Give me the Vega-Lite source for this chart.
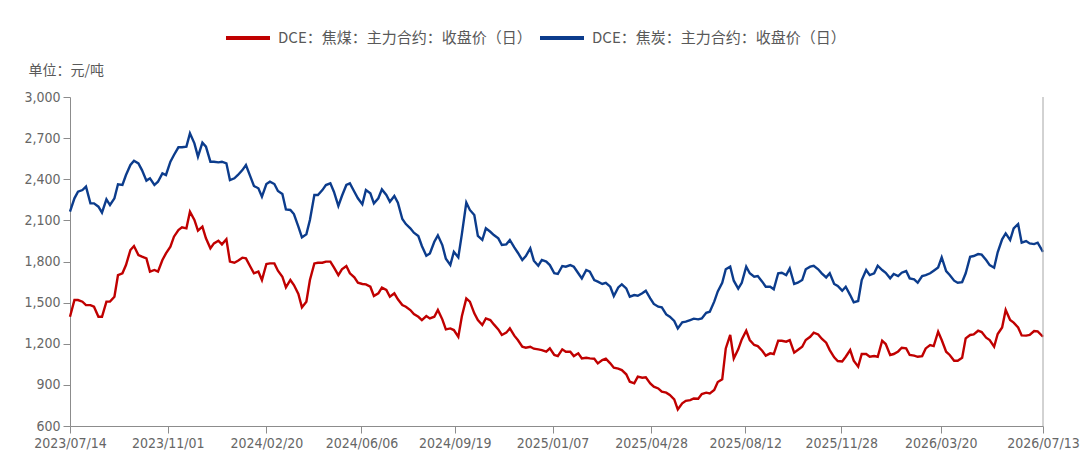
{
  "$schema": "https://vega.github.io/schema/vega-lite/v6.json",
  "width": 973,
  "height": 329,
  "autosize": {"type": "none"},
  "padding": {"left": 70, "top": 97, "right": 49, "bottom": 47},
  "background": "white",
  "config": {
    "view": {"stroke": null},
    "font": "DejaVu Sans Condensed",
    "axis": {
      "grid": false,
      "domainColor": "#8c8c8c",
      "tickColor": "#8c8c8c",
      "labelColor": "#666666",
      "labelFont": "DejaVu Sans Condensed",
      "labelFontSize": 14,
      "tickSize": 7,
      "labelPadding": 3
    }
  },
  "resolve": {"axis": {"x": "independent"}},
  "data": {
    "values": [
      {"d": "2023-07-14", "m": 1397, "c": 2163},
      {"d": "2023-07-19", "m": 1519, "c": 2261},
      {"d": "2023-07-23", "m": 1519, "c": 2309},
      {"d": "2023-07-28", "m": 1507, "c": 2321},
      {"d": "2023-08-01", "m": 1482, "c": 2346},
      {"d": "2023-08-06", "m": 1482, "c": 2224},
      {"d": "2023-08-10", "m": 1470, "c": 2224},
      {"d": "2023-08-15", "m": 1397, "c": 2200},
      {"d": "2023-08-19", "m": 1397, "c": 2156},
      {"d": "2023-08-24", "m": 1507, "c": 2253},
      {"d": "2023-08-28", "m": 1507, "c": 2212},
      {"d": "2023-09-02", "m": 1543, "c": 2261},
      {"d": "2023-09-06", "m": 1701, "c": 2363},
      {"d": "2023-09-11", "m": 1714, "c": 2358},
      {"d": "2023-09-15", "m": 1774, "c": 2431},
      {"d": "2023-09-20", "m": 1884, "c": 2504},
      {"d": "2023-09-24", "m": 1913, "c": 2535},
      {"d": "2023-09-29", "m": 1847, "c": 2516},
      {"d": "2023-10-03", "m": 1835, "c": 2467},
      {"d": "2023-10-08", "m": 1823, "c": 2390},
      {"d": "2023-10-12", "m": 1726, "c": 2407},
      {"d": "2023-10-17", "m": 1738, "c": 2358},
      {"d": "2023-10-21", "m": 1726, "c": 2382},
      {"d": "2023-10-26", "m": 1811, "c": 2443},
      {"d": "2023-10-30", "m": 1859, "c": 2431},
      {"d": "2023-11-04", "m": 1908, "c": 2528},
      {"d": "2023-11-08", "m": 1981, "c": 2577},
      {"d": "2023-11-13", "m": 2030, "c": 2633},
      {"d": "2023-11-17", "m": 2049, "c": 2633},
      {"d": "2023-11-22", "m": 2042, "c": 2638},
      {"d": "2023-11-26", "m": 2163, "c": 2735},
      {"d": "2023-12-01", "m": 2103, "c": 2662},
      {"d": "2023-12-05", "m": 2025, "c": 2565},
      {"d": "2023-12-10", "m": 2054, "c": 2667},
      {"d": "2023-12-14", "m": 1969, "c": 2638},
      {"d": "2023-12-19", "m": 1896, "c": 2528},
      {"d": "2023-12-23", "m": 1932, "c": 2528},
      {"d": "2023-12-28", "m": 1952, "c": 2523},
      {"d": "2024-01-01", "m": 1925, "c": 2528},
      {"d": "2024-01-06", "m": 1962, "c": 2516},
      {"d": "2024-01-10", "m": 1799, "c": 2394},
      {"d": "2024-01-15", "m": 1791, "c": 2407},
      {"d": "2024-01-19", "m": 1806, "c": 2431},
      {"d": "2024-01-24", "m": 1828, "c": 2467},
      {"d": "2024-01-28", "m": 1823, "c": 2504},
      {"d": "2024-02-02", "m": 1762, "c": 2419},
      {"d": "2024-02-06", "m": 1714, "c": 2351},
      {"d": "2024-02-11", "m": 1726, "c": 2334},
      {"d": "2024-02-15", "m": 1665, "c": 2273},
      {"d": "2024-02-20", "m": 1782, "c": 2365},
      {"d": "2024-02-24", "m": 1786, "c": 2382},
      {"d": "2024-02-29", "m": 1786, "c": 2365},
      {"d": "2024-03-04", "m": 1733, "c": 2314},
      {"d": "2024-03-09", "m": 1689, "c": 2292},
      {"d": "2024-03-13", "m": 1611, "c": 2180},
      {"d": "2024-03-18", "m": 1665, "c": 2176},
      {"d": "2024-03-22", "m": 1628, "c": 2146},
      {"d": "2024-03-27", "m": 1563, "c": 2054},
      {"d": "2024-03-31", "m": 1465, "c": 1976},
      {"d": "2024-04-05", "m": 1507, "c": 1998},
      {"d": "2024-04-09", "m": 1665, "c": 2103},
      {"d": "2024-04-14", "m": 1786, "c": 2285},
      {"d": "2024-04-18", "m": 1791, "c": 2285},
      {"d": "2024-04-23", "m": 1791, "c": 2321},
      {"d": "2024-04-27", "m": 1799, "c": 2358},
      {"d": "2024-05-02", "m": 1799, "c": 2370},
      {"d": "2024-05-06", "m": 1757, "c": 2309},
      {"d": "2024-05-11", "m": 1701, "c": 2205},
      {"d": "2024-05-15", "m": 1743, "c": 2278},
      {"d": "2024-05-20", "m": 1767, "c": 2358},
      {"d": "2024-05-24", "m": 1714, "c": 2370},
      {"d": "2024-05-29", "m": 1684, "c": 2309},
      {"d": "2024-06-02", "m": 1645, "c": 2261},
      {"d": "2024-06-07", "m": 1636, "c": 2217},
      {"d": "2024-06-11", "m": 1633, "c": 2321},
      {"d": "2024-06-16", "m": 1616, "c": 2297},
      {"d": "2024-06-20", "m": 1548, "c": 2224},
      {"d": "2024-06-25", "m": 1568, "c": 2261},
      {"d": "2024-06-29", "m": 1609, "c": 2326},
      {"d": "2024-07-04", "m": 1592, "c": 2285},
      {"d": "2024-07-08", "m": 1543, "c": 2236},
      {"d": "2024-07-13", "m": 1568, "c": 2278},
      {"d": "2024-07-17", "m": 1524, "c": 2229},
      {"d": "2024-07-22", "m": 1482, "c": 2110},
      {"d": "2024-07-26", "m": 1470, "c": 2073},
      {"d": "2024-07-31", "m": 1446, "c": 2042},
      {"d": "2024-08-04", "m": 1417, "c": 2010},
      {"d": "2024-08-09", "m": 1397, "c": 1986},
      {"d": "2024-08-13", "m": 1373, "c": 1913},
      {"d": "2024-08-18", "m": 1402, "c": 1842},
      {"d": "2024-08-22", "m": 1385, "c": 1859},
      {"d": "2024-08-27", "m": 1397, "c": 1944},
      {"d": "2024-08-31", "m": 1446, "c": 1991},
      {"d": "2024-09-05", "m": 1378, "c": 1920},
      {"d": "2024-09-09", "m": 1305, "c": 1820},
      {"d": "2024-09-14", "m": 1312, "c": 1774},
      {"d": "2024-09-18", "m": 1300, "c": 1871},
      {"d": "2024-09-23", "m": 1250, "c": 1830},
      {"d": "2024-09-27", "m": 1400, "c": 2000},
      {"d": "2024-10-02", "m": 1530, "c": 2230},
      {"d": "2024-10-06", "m": 1507, "c": 2176},
      {"d": "2024-10-11", "m": 1422, "c": 2139},
      {"d": "2024-10-15", "m": 1373, "c": 1986},
      {"d": "2024-10-20", "m": 1337, "c": 1957},
      {"d": "2024-10-24", "m": 1385, "c": 2042},
      {"d": "2024-10-29", "m": 1373, "c": 2017},
      {"d": "2024-11-02", "m": 1341, "c": 1993},
      {"d": "2024-11-07", "m": 1305, "c": 1969},
      {"d": "2024-11-11", "m": 1264, "c": 1920},
      {"d": "2024-11-16", "m": 1281, "c": 1925},
      {"d": "2024-11-20", "m": 1312, "c": 1957},
      {"d": "2024-11-25", "m": 1259, "c": 1903},
      {"d": "2024-11-29", "m": 1227, "c": 1864},
      {"d": "2024-12-04", "m": 1178, "c": 1811},
      {"d": "2024-12-08", "m": 1171, "c": 1840},
      {"d": "2024-12-13", "m": 1178, "c": 1896},
      {"d": "2024-12-17", "m": 1164, "c": 1806},
      {"d": "2024-12-22", "m": 1159, "c": 1769},
      {"d": "2024-12-26", "m": 1154, "c": 1811},
      {"d": "2024-12-31", "m": 1142, "c": 1799},
      {"d": "2025-01-04", "m": 1166, "c": 1774},
      {"d": "2025-01-09", "m": 1118, "c": 1714},
      {"d": "2025-01-13", "m": 1110, "c": 1709},
      {"d": "2025-01-18", "m": 1159, "c": 1767},
      {"d": "2025-01-22", "m": 1142, "c": 1762},
      {"d": "2025-01-27", "m": 1142, "c": 1774},
      {"d": "2025-01-31", "m": 1110, "c": 1762},
      {"d": "2025-02-05", "m": 1130, "c": 1714},
      {"d": "2025-02-09", "m": 1093, "c": 1677},
      {"d": "2025-02-14", "m": 1098, "c": 1738},
      {"d": "2025-02-18", "m": 1093, "c": 1726},
      {"d": "2025-02-23", "m": 1091, "c": 1665},
      {"d": "2025-02-27", "m": 1057, "c": 1653},
      {"d": "2025-03-04", "m": 1081, "c": 1636},
      {"d": "2025-03-08", "m": 1091, "c": 1645},
      {"d": "2025-03-13", "m": 1057, "c": 1616},
      {"d": "2025-03-17", "m": 1025, "c": 1548},
      {"d": "2025-03-22", "m": 1018, "c": 1611},
      {"d": "2025-03-26", "m": 1008, "c": 1633},
      {"d": "2025-03-31", "m": 977, "c": 1604},
      {"d": "2025-04-04", "m": 923, "c": 1543},
      {"d": "2025-04-09", "m": 911, "c": 1555},
      {"d": "2025-04-13", "m": 960, "c": 1550},
      {"d": "2025-04-18", "m": 952, "c": 1568},
      {"d": "2025-04-22", "m": 955, "c": 1587},
      {"d": "2025-04-27", "m": 911, "c": 1531},
      {"d": "2025-05-01", "m": 887, "c": 1490},
      {"d": "2025-05-06", "m": 874, "c": 1470},
      {"d": "2025-05-10", "m": 850, "c": 1465},
      {"d": "2025-05-15", "m": 843, "c": 1414},
      {"d": "2025-05-19", "m": 826, "c": 1397},
      {"d": "2025-05-24", "m": 794, "c": 1366},
      {"d": "2025-05-28", "m": 721, "c": 1312},
      {"d": "2025-06-02", "m": 765, "c": 1356},
      {"d": "2025-06-06", "m": 784, "c": 1361},
      {"d": "2025-06-11", "m": 789, "c": 1373},
      {"d": "2025-06-15", "m": 801, "c": 1383},
      {"d": "2025-06-20", "m": 799, "c": 1378},
      {"d": "2025-06-24", "m": 833, "c": 1385},
      {"d": "2025-06-29", "m": 843, "c": 1426},
      {"d": "2025-07-03", "m": 838, "c": 1434},
      {"d": "2025-07-08", "m": 862, "c": 1507},
      {"d": "2025-07-12", "m": 921, "c": 1582},
      {"d": "2025-07-17", "m": 940, "c": 1645},
      {"d": "2025-07-21", "m": 1166, "c": 1743},
      {"d": "2025-07-26", "m": 1264, "c": 1762},
      {"d": "2025-07-30", "m": 1093, "c": 1660},
      {"d": "2025-08-04", "m": 1159, "c": 1602},
      {"d": "2025-08-08", "m": 1232, "c": 1645},
      {"d": "2025-08-13", "m": 1295, "c": 1762},
      {"d": "2025-08-17", "m": 1227, "c": 1714},
      {"d": "2025-08-22", "m": 1191, "c": 1689},
      {"d": "2025-08-26", "m": 1183, "c": 1694},
      {"d": "2025-08-31", "m": 1149, "c": 1653},
      {"d": "2025-09-04", "m": 1113, "c": 1616},
      {"d": "2025-09-09", "m": 1130, "c": 1616},
      {"d": "2025-09-13", "m": 1125, "c": 1597},
      {"d": "2025-09-18", "m": 1222, "c": 1714},
      {"d": "2025-09-22", "m": 1222, "c": 1718},
      {"d": "2025-09-27", "m": 1215, "c": 1701},
      {"d": "2025-10-01", "m": 1227, "c": 1750},
      {"d": "2025-10-06", "m": 1135, "c": 1636},
      {"d": "2025-10-10", "m": 1154, "c": 1645},
      {"d": "2025-10-15", "m": 1178, "c": 1665},
      {"d": "2025-10-19", "m": 1227, "c": 1743},
      {"d": "2025-10-24", "m": 1251, "c": 1762},
      {"d": "2025-10-28", "m": 1281, "c": 1769},
      {"d": "2025-11-02", "m": 1268, "c": 1743},
      {"d": "2025-11-06", "m": 1237, "c": 1714},
      {"d": "2025-11-11", "m": 1208, "c": 1684},
      {"d": "2025-11-15", "m": 1154, "c": 1714},
      {"d": "2025-11-20", "m": 1101, "c": 1636},
      {"d": "2025-11-24", "m": 1074, "c": 1621},
      {"d": "2025-11-29", "m": 1071, "c": 1587},
      {"d": "2025-12-03", "m": 1105, "c": 1616},
      {"d": "2025-12-08", "m": 1154, "c": 1555},
      {"d": "2025-12-12", "m": 1076, "c": 1502},
      {"d": "2025-12-17", "m": 1033, "c": 1512},
      {"d": "2025-12-21", "m": 1125, "c": 1665},
      {"d": "2025-12-26", "m": 1125, "c": 1738},
      {"d": "2025-12-30", "m": 1105, "c": 1701},
      {"d": "2026-01-04", "m": 1110, "c": 1714},
      {"d": "2026-01-08", "m": 1105, "c": 1769},
      {"d": "2026-01-13", "m": 1222, "c": 1738},
      {"d": "2026-01-17", "m": 1198, "c": 1718},
      {"d": "2026-01-22", "m": 1118, "c": 1677},
      {"d": "2026-01-26", "m": 1125, "c": 1709},
      {"d": "2026-01-31", "m": 1144, "c": 1694},
      {"d": "2026-02-04", "m": 1171, "c": 1718},
      {"d": "2026-02-09", "m": 1166, "c": 1730},
      {"d": "2026-02-13", "m": 1118, "c": 1677},
      {"d": "2026-02-18", "m": 1113, "c": 1670},
      {"d": "2026-02-22", "m": 1105, "c": 1645},
      {"d": "2026-02-27", "m": 1110, "c": 1694},
      {"d": "2026-03-03", "m": 1166, "c": 1701},
      {"d": "2026-03-08", "m": 1191, "c": 1714},
      {"d": "2026-03-12", "m": 1183, "c": 1733},
      {"d": "2026-03-17", "m": 1288, "c": 1757},
      {"d": "2026-03-21", "m": 1227, "c": 1830},
      {"d": "2026-03-26", "m": 1142, "c": 1730},
      {"d": "2026-03-30", "m": 1118, "c": 1701},
      {"d": "2026-04-04", "m": 1076, "c": 1660},
      {"d": "2026-04-08", "m": 1076, "c": 1645},
      {"d": "2026-04-13", "m": 1098, "c": 1650},
      {"d": "2026-04-17", "m": 1239, "c": 1714},
      {"d": "2026-04-22", "m": 1264, "c": 1835},
      {"d": "2026-04-26", "m": 1268, "c": 1840},
      {"d": "2026-05-01", "m": 1295, "c": 1854},
      {"d": "2026-05-05", "m": 1285, "c": 1850},
      {"d": "2026-05-10", "m": 1244, "c": 1811},
      {"d": "2026-05-14", "m": 1227, "c": 1774},
      {"d": "2026-05-19", "m": 1178, "c": 1755},
      {"d": "2026-05-23", "m": 1271, "c": 1867},
      {"d": "2026-05-28", "m": 1319, "c": 1962},
      {"d": "2026-06-01", "m": 1446, "c": 2005},
      {"d": "2026-06-06", "m": 1373, "c": 1957},
      {"d": "2026-06-10", "m": 1354, "c": 2042},
      {"d": "2026-06-15", "m": 1319, "c": 2073},
      {"d": "2026-06-19", "m": 1261, "c": 1937},
      {"d": "2026-06-24", "m": 1259, "c": 1949},
      {"d": "2026-06-28", "m": 1264, "c": 1932},
      {"d": "2026-07-03", "m": 1293, "c": 1927},
      {"d": "2026-07-07", "m": 1290, "c": 1937},
      {"d": "2026-07-13", "m": 1251, "c": 1871}
    ]
  },
  "layer": [
    {
      "transform": [{"fold": ["m", "c"], "as": ["k", "v"]}],
      "mark": {"type": "line", "strokeWidth": 2.4},
      "encoding": {
        "x": {
          "field": "d",
          "type": "temporal",
          "scale": {
            "type": "utc",
            "domain": [
              {"year": 2023, "month": 7, "date": 14, "utc": true},
              {"year": 2026, "month": 7, "date": 13, "utc": true}
            ]
          },
          "axis": {
            "title": null,
            "labelExpr": "utcFormat(datum.value, '%Y/%m/%d')",
            "labelOverlap": false,
            "labelFlush": false,
            "values": [
              {"year": 2023, "month": 7, "date": 14, "utc": true},
              {"year": 2023, "month": 11, "date": 1, "utc": true},
              {"year": 2024, "month": 2, "date": 20, "utc": true},
              {"year": 2024, "month": 6, "date": 6, "utc": true},
              {"year": 2024, "month": 9, "date": 19, "utc": true},
              {"year": 2025, "month": 1, "date": 7, "utc": true},
              {"year": 2025, "month": 4, "date": 28, "utc": true},
              {"year": 2025, "month": 8, "date": 12, "utc": true},
              {"year": 2025, "month": 11, "date": 28, "utc": true},
              {"year": 2026, "month": 3, "date": 20, "utc": true},
              {"year": 2026, "month": 7, "date": 13, "utc": true}
            ]
          }
        },
        "y": {
          "field": "v",
          "type": "quantitative",
          "scale": {"domain": [600, 3000], "nice": false, "zero": false},
          "axis": {
            "values": [600, 900, 1200, 1500, 1800, 2100, 2400, 2700, 3000],
            "format": ",.0f",
            "title": "单位：元/吨",
            "titleAngle": 0,
            "titleX": -42,
            "titleY": -27,
            "titleAlign": "left",
            "titleBaseline": "middle",
            "titleFont": "Noto Sans CJK SC",
            "titleFontSize": 14,
            "titleFontWeight": "normal",
            "titleColor": "#595959"
          }
        },
        "color": {
          "field": "k",
          "type": "nominal",
          "scale": {"domain": ["m", "c"], "range": ["#c00000", "#0c3c8c"]},
          "legend": {
            "orient": "none",
            "legendX": 154,
            "legendY": -83,
            "direction": "horizontal",
            "title": null,
            "symbolType": "stroke",
            "symbolSize": 1936,
            "symbolStrokeWidth": 4,
            "labelFont": "Noto Sans CJK SC",
            "labelFontSize": 15,
            "labelColor": "#595959",
            "labelLimit": 400,
            "labelOffset": 6,
            "columnPadding": 0,
            "labelExpr": "datum.value === 'm' ? 'DCE：焦煤：主力合约：收盘价（日）' : 'DCE：焦炭：主力合约：收盘价（日）'"
          }
        }
      }
    },
    {
      "data": {"values": [{}]},
      "mark": {"type": "rule", "stroke": "#a6a6a6", "strokeWidth": 1},
      "encoding": {
        "x": {"datum": {"year": 2026, "month": 7, "date": 13, "utc": true}, "type": "temporal", "axis": null}
      }
    }
  ]
}
